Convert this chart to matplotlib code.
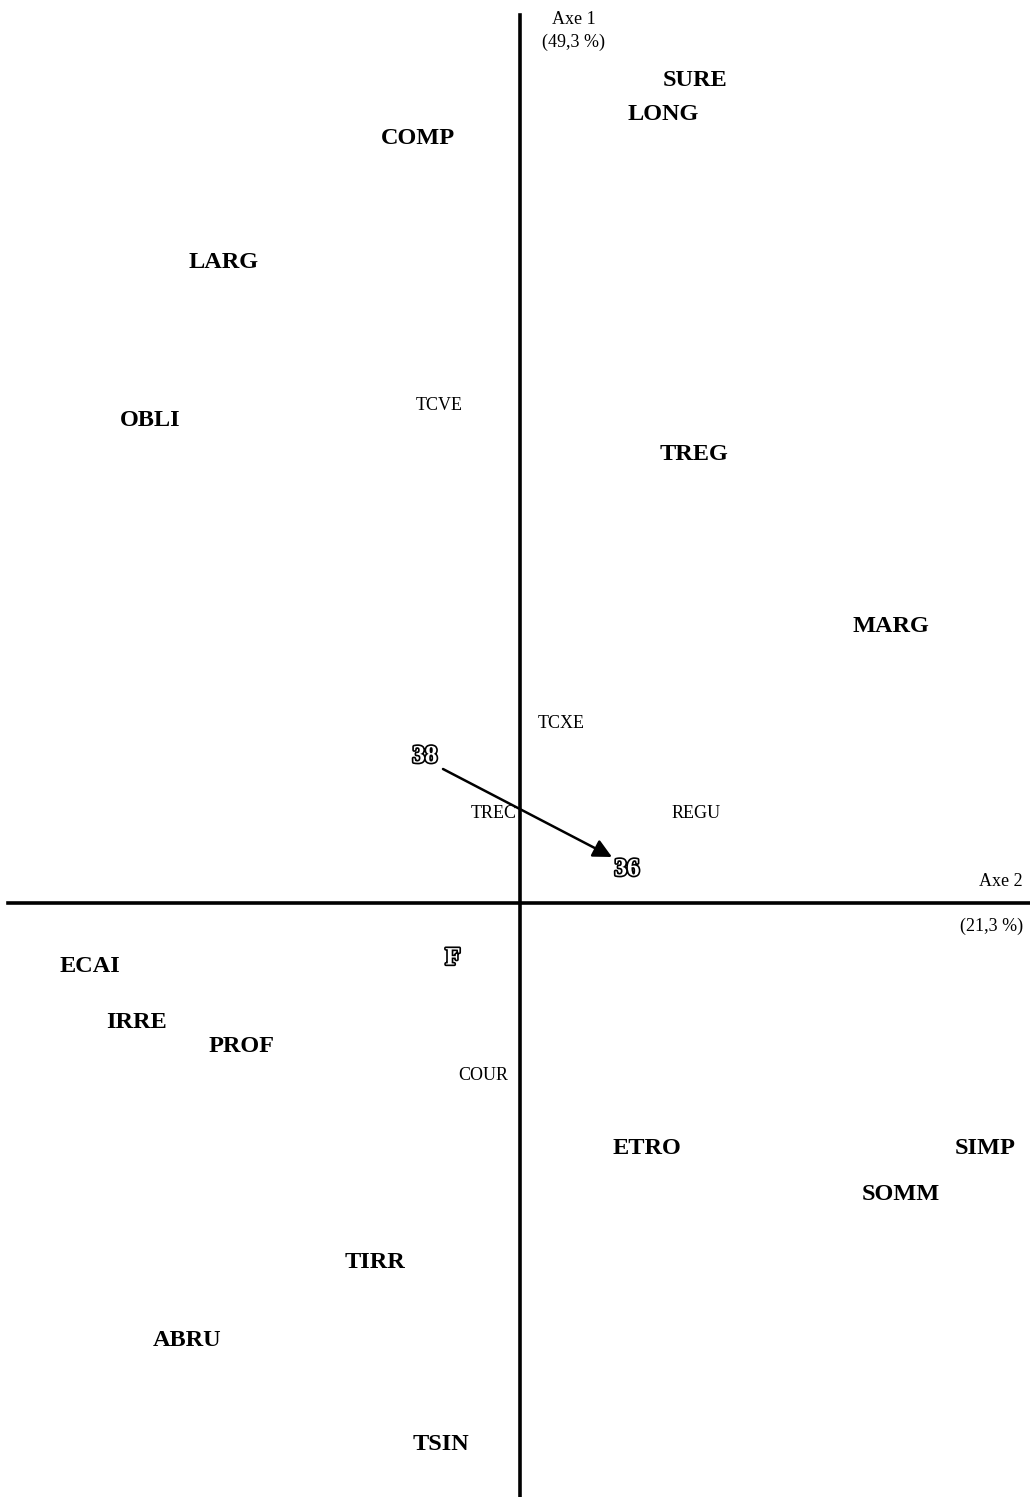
import matplotlib.pyplot as plt
import matplotlib.patheffects as pe

# coordinates on the factorial plane (axe 2 horizontal, axe 1 vertical)
bold_labels = ['SURE', 'LONG', 'COMP', 'LARG', 'OBLI', 'TREG', 'MARG',
               'ECAI', 'IRRE', 'PROF', 'ETRO', 'SIMP', 'SOMM', 'TIRR',
               'ABRU', 'TSIN']
bold_x = [0.35, 0.286, -0.204, -0.592, -0.74, 0.348, 0.742,
          -0.86, -0.766, -0.556, 0.254, 0.93, 0.762, -0.29,
          -0.666, -0.158]
bold_y = [1.644, 1.576, 1.528, 1.28, 0.966, 0.896, 0.554,
          -0.128, -0.24, -0.286, -0.492, -0.492, -0.584, -0.72,
          -0.876, -1.082]

small_labels = ['TCVE', 'TCXE', 'TREC', 'REGU', 'COUR']
small_x = [-0.162, 0.082, -0.052, 0.352, -0.074]
small_y = [0.996, 0.36, 0.18, 0.18, -0.346]

outline_labels = ['38', '36', 'F']
outline_x = [-0.19, 0.214, -0.134]
outline_y = [0.294, 0.068, -0.11]

arrow_start = (-0.154, 0.268)
arrow_end = (0.184, 0.092)

plt.rcParams['font.family'] = ['Liberation Serif', 'DejaVu Serif']

fig = plt.figure(figsize=(10.30, 14.97), dpi=100)
ax = fig.add_axes([0, 0, 1, 1])
ax.set_xlim(-1.04, 1.02)
ax.set_ylim(-1.188, 1.806)
ax.axis('off')

# axes of the plane
ax.plot([-1.024, 1.02], [0, 0], color='black', lw=2.6)
ax.plot([0, 0], [-1.188, 1.776], color='black', lw=2.6)

for name, x, y in zip(bold_labels, bold_x, bold_y):
    ax.text(x, y, name, ha='center', va='center', fontsize=17.5,
            fontweight='bold')

for name, x, y in zip(small_labels, small_x, small_y):
    ax.text(x, y, name, ha='center', va='center', fontsize=13)

for name, x, y in zip(outline_labels, outline_x, outline_y):
    ax.text(x, y, name, ha='center', va='center', fontsize=18,
            fontweight='bold', color='white',
            path_effects=[pe.withStroke(linewidth=2.4, foreground='black')])

ax.annotate('', xy=arrow_end, xytext=arrow_start,
            arrowprops=dict(arrowstyle='-|>', color='black', lw=1.8,
                            mutation_scale=28, shrinkA=0, shrinkB=0))

ax.text(0.108, 1.768, 'Axe 1', ha='center', va='center', fontsize=13)
ax.text(0.108, 1.722, '(49,3 %)', ha='center', va='center', fontsize=13)
ax.text(1.006, 0.044, 'Axe 2', ha='right', va='center', fontsize=13)
ax.text(1.006, -0.046, '(21,3 %)', ha='right', va='center', fontsize=13)

fig.savefig('out.png', dpi=100)
